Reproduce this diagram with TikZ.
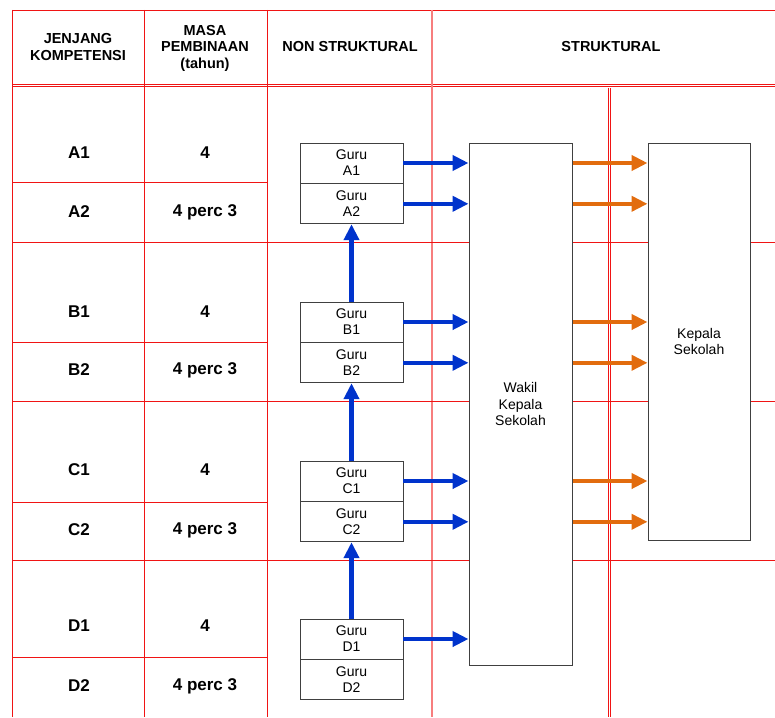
\documentclass[tikz,border=0pt]{standalone}
\usepackage{fontspec}
\setmainfont{Liberation Sans}
\usetikzlibrary{arrows.meta, positioning}
\definecolor{garismerah}{RGB}{240,20,20}
\definecolor{panahbiru}{RGB}{0,51,204}
\definecolor{panahoranye}{RGB}{226,108,14}

\begin{document}
\begin{tikzpicture}[x=1pt, y=-1pt,
    kepala/.style={font=\bfseries\fontsize{14.5}{16.5}\selectfont, align=center},
    isian/.style={font=\bfseries\fontsize{17}{19}\selectfont},
    guru/.style={draw=black!75, line width=0.8pt, minimum width=103pt, minimum height=40pt,
      inner sep=0pt, align=center, font=\fontsize{14}{16}\selectfont},
    jabatan/.style={draw=black!75, line width=1pt, fill=white, inner sep=0pt, align=center,
      font=\fontsize{14}{16.5}\selectfont},
    biru/.style={draw=panahbiru, line width=4.5pt, -{Triangle[length=16pt, width=15pt]}},
    oranye/.style={draw=panahoranye, line width=4.5pt, -{Triangle[length=16pt, width=15pt]}}]
  \useasboundingbox (0,0) rectangle (775,717);

  % garis tabel
  \draw[garismerah, line width=0.9pt] (12,10) -- (775,10);
  \draw[garismerah, line width=0.7pt] (12,84.5) -- (775,84.5) (12,86.7) -- (775,86.7);
  \foreach \x in {12,144,267} {
    \draw[garismerah, line width=0.9pt] (\x,10) -- (\x,717);
  }
  \draw[garismerah!55, line width=1.3pt] (432,10) -- (432,717);
  \draw[garismerah, line width=0.6pt] (608.3,88) -- (608.3,717) (610.3,88) -- (610.3,717);
  \foreach \y in {182,342,502,657} {
    \draw[garismerah, line width=0.9pt] (12,\y) -- (267,\y); % antar baris
  }
  \foreach \y in {242,401,560} {
    \draw[garismerah, line width=0.9pt] (12,\y) -- (775,\y); % antar jenjang
  }

  % judul kolom
  \node[kepala] (hjenjang) at (78,47) {JENJANG\\KOMPETENSI};
  \node[kepala] (hmasa) at (205,48) {MASA\\PEMBINAAN\\(tahun)};
  \node[kepala] (hnon) at (350,47) {NON STRUKTURAL};
  \node[kepala] (hstruk) at (611,47) {STRUKTURAL};

  % isi tabel
  \foreach \lvl/\yy/\masa in {A1/153/4, A2/212/4 perc 3, B1/312/4, B2/370/4 perc 3,
      C1/470/4, C2/530/4 perc 3, D1/626/4, D2/686/4 perc 3} {
    \node[isian] (lv\lvl) at (79,\yy) {\lvl};
    \node[isian] (ms\lvl) at (205,\yy) {\masa};
  }

  % guru
  \node[guru] (a1) at (351.5,163) {Guru\\A1};
  \node[guru, below=0pt of a1] (a2) {Guru\\A2};
  \node[guru] (b1) at (351.5,322) {Guru\\B1};
  \node[guru, below=0pt of b1] (b2) {Guru\\B2};
  \node[guru] (c1) at (351.5,481) {Guru\\C1};
  \node[guru, below=0pt of c1] (c2) {Guru\\C2};
  \node[guru] (d1) at (351.5,639) {Guru\\D1};
  \node[guru, below=0pt of d1] (d2) {Guru\\D2};

  % struktural
  \node[jabatan, minimum width=103pt, minimum height=522pt] (wakil) at (520.5,404) {Wakil\\Kepala\\Sekolah};
  \node[jabatan, minimum width=102pt, minimum height=397pt] (kepsek) at (699,341.5) {Kepala\\Sekolah};

  % panah
  \foreach \g in {a1,a2,b1,b2,c1,c2,d1} {
    \draw[biru] (\g.east) -- (\g.east -| wakil.west);
  }
  \draw[biru] (b1.north) -- (a2.south);
  \draw[biru] (c1.north) -- (b2.south);
  \draw[biru] (d1.north) -- (c2.south);
  \foreach \g in {a1,a2,b1,b2,c1,c2} {
    \draw[oranye] (\g.east -| wakil.east) -- (\g.east -| kepsek.west);
  }
\end{tikzpicture}
\end{document}
